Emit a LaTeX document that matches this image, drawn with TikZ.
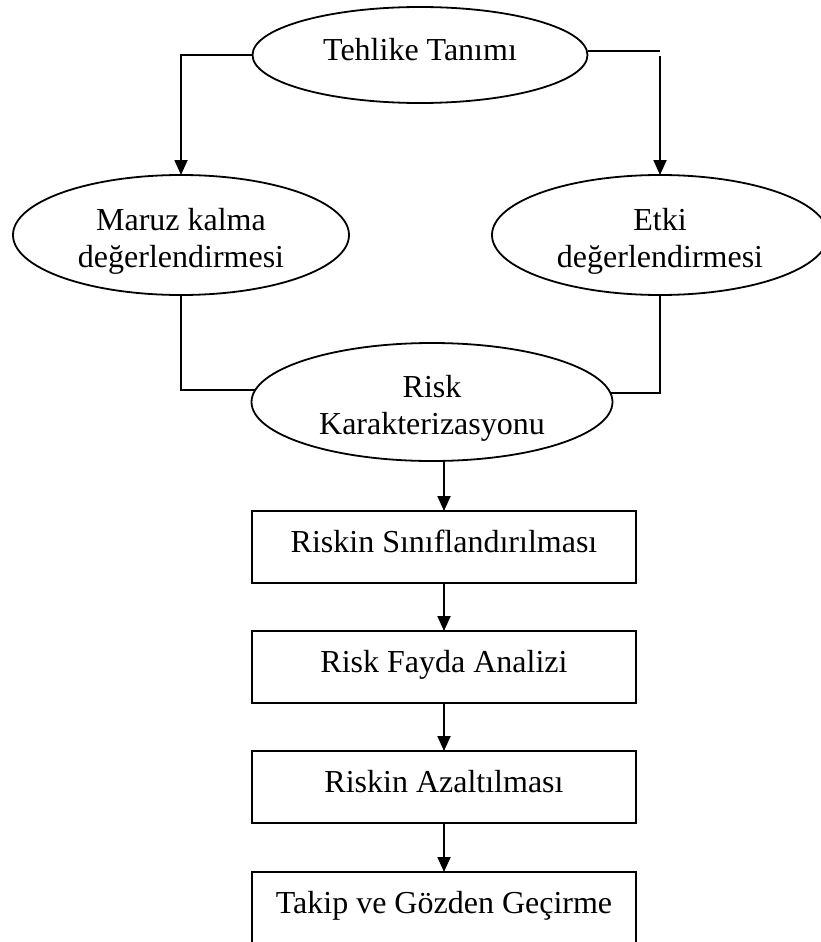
\documentclass[tikz,border=0pt]{standalone}
\usepackage{fontspec}
\setmainfont{Liberation Serif}
\usetikzlibrary{shapes.geometric,arrows.meta}
\begin{document}
\begin{tikzpicture}[x=1pt,y=-1pt,
  every node/.style={font=\fontsize{32}{37}\selectfont, align=center,
    inner sep=0pt, outer sep=0pt},
  oval/.style={ellipse, draw, line width=1.8pt, fill=white},
  oneline/.style={text height=21pt, text depth=10pt},
  twoline/.style={text height=21pt, text depth=31pt},
  stepbox/.style={rectangle, draw, line width=1.8pt, fill=white,
    minimum width=384pt, minimum height=72pt, oneline},
  link/.style={line width=1.8pt},
  flow/.style={link, -{Triangle[length=15pt,width=13pt]}}]
\useasboundingbox (0,0) rectangle (820,942);
\fill[white] (0,0) rectangle (820,942);

% assessment stage (ellipses)
\node[oval, oneline, minimum width=335pt, minimum height=96pt]
  (hazard) at (420,55) {Tehlike Tanımı};
\node[oval, twoline, minimum width=336pt, minimum height=120pt]
  (exposure) at (181,235)
  {\begin{tabular}[t]{@{}c@{}}Maruz kalma\\değerlendirmesi\end{tabular}};
\node[oval, twoline, minimum width=336pt, minimum height=120pt]
  (effect) at (660,235)
  {\begin{tabular}[t]{@{}c@{}}Etki\\değerlendirmesi\end{tabular}};
\node[oval, twoline, minimum width=361pt, minimum height=118pt]
  (character) at (432,402)
  {\begin{tabular}[t]{@{}c@{}}Risk\\Karakterizasyonu\end{tabular}};

% management stage (boxes)
\node[stepbox] (classify) at (444,547) {Riskin Sınıflandırılması};
\node[stepbox] (benefit)  at (444,667) {Risk Fayda Analizi};
\node[stepbox] (reduce)   at (444,787) {Riskin Azaltılması};
\node[stepbox] (monitor)  at (444,908) {Takip ve Gözden Geçirme};

% connectors
\coordinate (bendhi) at (660,51);
\coordinate (bendlo) at (660,56);
\draw[flow] (hazard.west) -| (exposure.north);
\draw[link] (hazard.east |- bendhi) -- (bendhi);
\draw[flow] (bendlo) -- (effect.north);

\draw[link] (exposure.south) |- (character.176.45);
\draw[link] (effect.south) |- (character.3.55);

\draw[flow] (classify.north |- character.south) -- (classify.north);
\draw[flow] (classify.south) -- (benefit.north);
\draw[flow] (benefit.south) -- (reduce.north);
\draw[flow] (reduce.south) -- (monitor.north);
\end{tikzpicture}
\end{document}
